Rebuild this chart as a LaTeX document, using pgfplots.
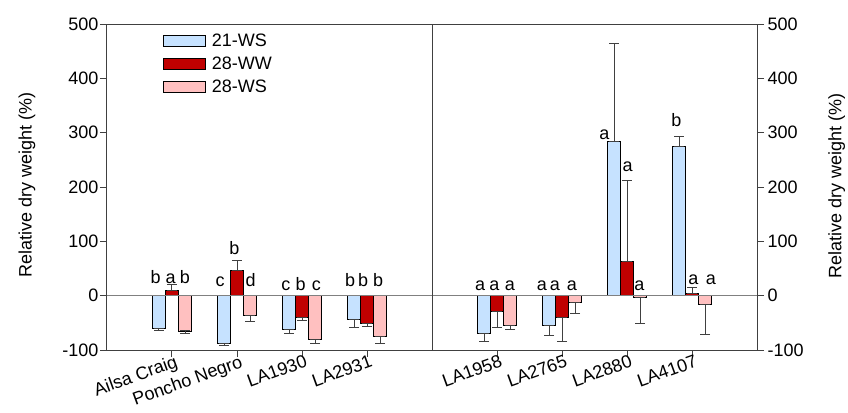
\documentclass[border=0pt]{standalone}
\usepackage{pgfplots}
\pgfplotsset{compat=1.18}
\usepackage{pgfplotstable}
\usepackage{fontspec}
\setmainfont{Liberation Sans}

\definecolor{lblue}{RGB}{198,226,255}
\definecolor{dred}{RGB}{192,0,0}
\definecolor{lpink}{RGB}{255,192,192}
\definecolor{axgray}{RGB}{64,64,64}

% x, value, error plus, error minus
\pgfplotstableread{
x   y      ep     em
1   -60    0      4
2   -88    0      3
3   -62    0      8.5
4   -43.5  0      16
6   -69    0      16
7   -55    0      18.6
8   283.6  180    0
9   274.4  19     0
}\wsA
\pgfplotstableread{
x   y      ep     em
1   9      11     0
2   47     17     0
3   -40    0      5
4   -51    0      5
6   -29.5  0      28.5
7   -40    0      43.5
8   63     149.5  0
9   4.4    10.6   0
}\wwB
\pgfplotstableread{
x   y      ep     em
1   -65    0      4
2   -37    0      10
3   -80    0      8
4   -75    0      13
6   -54.5  0      7.5
7   -12    0      21
8   -3     0      49
9   -16    0      55
}\wsB

\begin{document}
\begin{tikzpicture}[font=\fontsize{18}{21.6}\selectfont]
\useasboundingbox (-107pt,-62pt) rectangle (741pt,350pt);
\pgfplotsset{
  /pgf/number format/assume math mode=true,
  mybar/.style={draw=black, line width=0.8pt,
    legend image code/.code={\draw[##1, line width=0.8pt] (0pt,-5.5pt) rectangle (42pt,5.5pt);},
    error bars/y dir=both, error bars/y explicit,
    error bars/error bar style={color=axgray, line width=1pt},
    error bars/error mark options={rotate=90, mark size=5pt, line width=1pt, color=axgray}},
}
\begin{axis}[
  scale only axis,
  width=650pt, height=326pt,
  xmin=0, xmax=10,
  ymin=-100, ymax=500,
  ytick={-100,0,...,500},
  xtick={1,2,3,4,6,7,8,9},
  xticklabels={Ailsa Craig,Poncho Negro,LA1930,LA2931,LA1958,LA2765,LA2880,LA4107},
  xticklabel style={rotate=20, anchor=north east, inner sep=1pt, yshift=3pt, xshift=4pt},
  yticklabel style={xshift=2pt},
  xtick pos=bottom, ytick pos=left,
  tick align=outside,
  major tick length=7pt,
  axis line style={axgray, line width=1pt},
  tick style={axgray, line width=1pt},
  ylabel={Relative dry weight (\%)},
  ylabel style={at={(axis description cs:-0.123,0.505)}, anchor=center},
  ybar=0pt, bar width=13pt,
  legend style={draw=none, fill=none, at={(axis description cs:0.086,0.975)},
    anchor=north west, row sep=4.5pt, inner sep=0pt,
    /tikz/every odd column/.append style={column sep=4pt}},
  legend cell align=left,
  clip=false,
]
\addplot[mybar, fill=lblue] table[x=x, y=y, y error plus=ep, y error minus=em] {\wsA};
\addplot[mybar, fill=dred] table[x=x, y=y, y error plus=ep, y error minus=em] {\wwB};
\addplot[mybar, fill=lpink] table[x=x, y=y, y error plus=ep, y error minus=em] {\wsB};
\legend{21-WS,28-WW,28-WS}

\draw[gray, line width=1pt] (axis cs:0,0) -- (axis cs:10,0);
\draw[axgray, line width=1pt] (axis cs:5,-100) -- (axis cs:5,500);

% significance letters
\begin{scope}[every node/.style={anchor=base, inner sep=0pt}]
\node at (axis cs:0.75,23) {b};
\node at (axis cs:0.98,23) {a};
\node at (axis cs:1.20,23) {b};
\node at (axis cs:1.74,16) {c};
\node at (axis cs:1.96,75) {b};
\node at (axis cs:2.21,16) {d};
\node at (axis cs:2.75,10) {c};
\node at (axis cs:2.98,10) {b};
\node at (axis cs:3.22,10) {c};
\node at (axis cs:3.74,16) {b};
\node at (axis cs:3.94,16) {b};
\node at (axis cs:4.17,16) {b};
\node at (axis cs:5.74,10) {a};
\node at (axis cs:5.96,10) {a};
\node at (axis cs:6.20,10) {a};
\node at (axis cs:6.69,10) {a};
\node at (axis cs:6.89,10) {a};
\node at (axis cs:7.15,10) {a};
\node at (axis cs:7.65,288) {a};
\node at (axis cs:8.01,228) {a};
\node at (axis cs:8.19,10) {a};
\node at (axis cs:8.76,311) {b};
\node at (axis cs:9.02,20) {a};
\node at (axis cs:9.29,20) {a};
\end{scope}
\end{axis}

\begin{axis}[
  scale only axis,
  width=650pt, height=326pt,
  xmin=0, xmax=10,
  ymin=-100, ymax=500,
  ytick={-100,0,...,500},
  axis x line=none,
  axis y line*=right,
  tick align=outside,
  major tick length=7pt,
  axis line style={axgray, line width=1pt, -},
  tick style={axgray, line width=1pt},
  ylabel={Relative dry weight (\%)},
  ylabel style={at={(axis description cs:1.1226,0.502)}, anchor=center, rotate=0},
]
\end{axis}
\end{tikzpicture}
\end{document}
